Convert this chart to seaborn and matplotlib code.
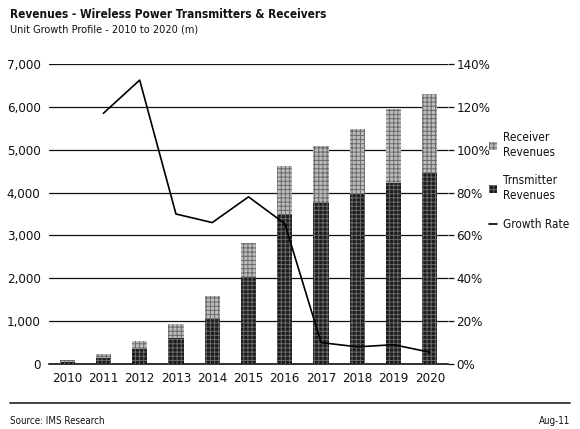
import numpy as np
import pandas as pd
import seaborn as sns
import matplotlib.pyplot as plt
from matplotlib.patches import Patch
from matplotlib.lines import Line2D

years = ["2010", "2011", "2012", "2013", "2014", "2015", "2016", "2017", "2018", "2019", "2020"]
transmitter = [55, 130, 350, 600, 1050, 2040, 3500, 3765, 3960, 4230, 4450]
receiver = [40, 100, 190, 340, 530, 775, 1120, 1330, 1520, 1720, 1840]
growth = [np.nan, 117, 132.5, 70, 66, 78, 65.5, 10, 8, 9, 5.5]

df = pd.DataFrame({"year": years, "trans": transmitter, "recv": receiver, "growth": growth})
df["total"] = df["trans"] + df["recv"]
df["pos"] = range(len(df))

sns.set_style("white")
plt.rcParams["font.family"] = ["DejaVu Sans"]
plt.rcParams["font.stretch"] = "condensed"
plt.rcParams["hatch.linewidth"] = 0.7
plt.rcParams["text.color"] = "#111111"
plt.rcParams["xtick.labelcolor"] = "#111111"
plt.rcParams["ytick.labelcolor"] = "#111111"

fig = plt.figure(figsize=(5.8, 4.29), dpi=100)
ax = fig.add_axes([49 / 580, 1 - 364 / 429, (448 - 49) / 580, 300 / 429])

# stacked bars: total (receiver on top) then transmitter over it
sns.barplot(data=df, x="year", y="total", color="#bdbdbd", width=0.42, ax=ax, zorder=3)
n = len(ax.patches)
sns.barplot(data=df, x="year", y="trans", color="#1c1c1c", width=0.42, ax=ax, zorder=4)
for p in ax.patches:
    p.set_hatch("++++")
    p.set_linewidth(0)
    p.set_edgecolor("#6a6a6a")

ax.set_ylim(0, 7000)
ax.set_xlim(-0.5, 10.5)
ax.set_yticks(range(0, 7001, 1000))
ax.set_yticklabels([f"{v:,}" for v in range(0, 7001, 1000)])
ax.yaxis.grid(True, color="#111111", lw=0.9)
ax.set_axisbelow(True)
ax.set_xlabel("")
ax.set_ylabel("")
for s in ["top", "left", "right"]:
    ax.spines[s].set_visible(False)
ax.spines["bottom"].set_color("#111111")
ax.spines["bottom"].set_linewidth(1.2)
ax.set_xticks(range(len(years)))
ax.set_xticklabels(years)
ax.set_xticks(np.arange(-0.5, 10.6, 1), minor=True)
ax.tick_params(axis="x", which="major", length=0, pad=6, labelsize=9.5)
ax.tick_params(axis="x", which="minor", length=4, width=0.8, color="#111111", direction="out")
ax.tick_params(axis="y", length=0, pad=6, labelsize=9.5)

ax2 = ax.twinx()
sns.lineplot(data=df, x="pos", y="growth", color="black", lw=1.2, ax=ax2, zorder=5)
ax2.set_ylim(0, 140)
ax2.set_xlim(-0.5, 10.5)
ax2.set_yticks(range(0, 141, 20))
ax2.set_yticklabels([f"{v}%" for v in range(0, 141, 20)])
ax2.set_ylabel("")
ax2.tick_params(axis="y", length=4, width=0.9, color="#111111", pad=2, labelsize=9.5)
for s in ["top", "left", "right", "bottom"]:
    ax2.spines[s].set_visible(False)

handles = [
    Patch(facecolor="#bdbdbd", edgecolor="#6a6a6a", hatch="++++", lw=0),
    Patch(facecolor="#1c1c1c", edgecolor="#6a6a6a", hatch="++++", lw=0),
    Line2D([], [], color="black", lw=1.2),
]
labels = ["Receiver\nRevenues", "Trnsmitter\nRevenues", "Growth Rate"]
fig.legend(handles, labels, loc="upper left", bbox_to_anchor=(489 / 580, 1 - 131 / 429),
           frameon=False, fontsize=8.5, handlelength=0.7, handleheight=0.7,
           handletextpad=0.5, labelspacing=1.3, borderaxespad=0, borderpad=0)

fig.text(10 / 580, 1 - 14 / 429, "Revenues - Wireless Power Transmitters & Receivers",
         fontsize=8.5, fontweight="bold", va="center", ha="left")
fig.text(10 / 580, 1 - 29 / 429, "Unit Growth Profile - 2010 to 2020 (m)",
         fontsize=7.8, va="center", ha="left")
fig.add_artist(Line2D([10 / 580, 570 / 580], [1 - 403 / 429, 1 - 403 / 429], color="#222222", lw=1.2))
fig.text(10 / 580, 1 - 421 / 429, "Source: IMS Research", fontsize=7, va="center", ha="left")
fig.text(570 / 580, 1 - 421 / 429, "Aug-11", fontsize=7, va="center", ha="right")

fig.savefig("out.png", dpi=100)
